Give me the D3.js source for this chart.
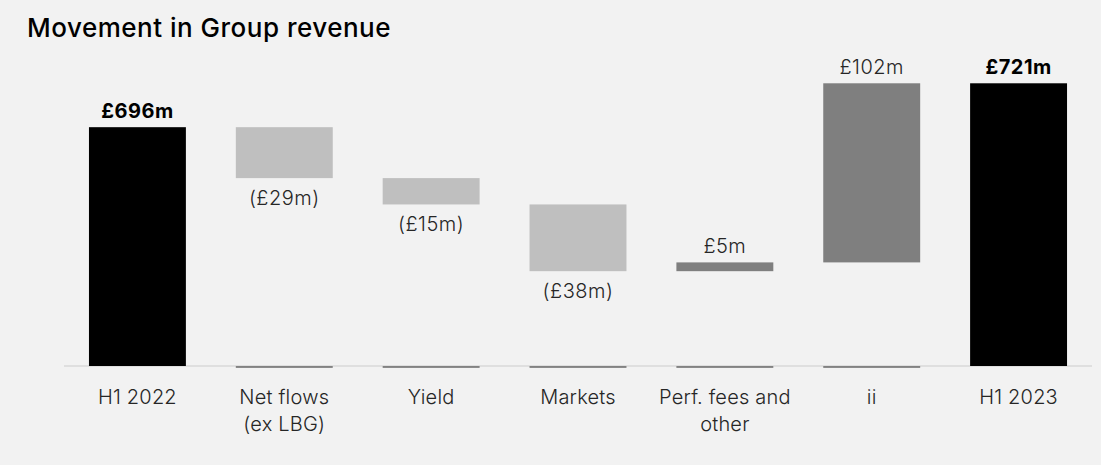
<!DOCTYPE html>
<html>
<head>
<meta charset="utf-8">
<script src="https://cdn.jsdelivr.net/npm/d3@7"></script>
<style>
  html, body { margin: 0; padding: 0; background: #f2f2f2; }
  svg { display: block; font-family: "Inter", "Lato", sans-serif; }
</style>
</head>
<body>
<svg id="chart" width="1101" height="465"></svg>
<script>
// Waterfall: Group revenue bridge H1 2022 -> H1 2023 (£m)
const categories = [
  ["H1 2022"],
  ["Net flows", "(ex LBG)"],
  ["Yield"],
  ["Markets"],
  ["Perf. fees and", "other"],
  ["ii"],
  ["H1 2023"]
];
const values = [696, -29, -15, -38, 5, 102, 721];
const kinds = ["total", "delta", "delta", "delta", "delta", "delta", "total"];
const valueLabels = ["£696m", "(£29m)", "(£15m)", "(£38m)", "£5m", "£102m", "£721m"];
const axisMin = 560;
const axisMax = 760;

const width = 1101, height = 465;
const svg = d3.select("#chart");

svg.append("rect").attr("width", width).attr("height", height).attr("fill", "#f2f2f2");

svg.append("text")
  .attr("x", 27).attr("y", 37)
  .attr("font-size", 26).attr("font-weight", 500).attr("fill", "#000")
  .attr("letter-spacing", 0.5)
  .text("Movement in Group revenue");

// Build running start/end for each step
let running = 0;
const steps = values.map((v, i) => {
  let lo, hi;
  if (kinds[i] === "total") {
    lo = axisMin; hi = v; running = v;
  } else {
    const start = running;
    running = start + v;
    lo = Math.min(start, running); hi = Math.max(start, running);
  }
  return { i, v, kind: kinds[i], lo, hi, label: valueLabels[i], cat: categories[i] };
});

const x = d3.scaleBand()
  .domain(d3.range(categories.length))
  .range([64, 1092])
  .paddingInner(0.34)
  .paddingOuter(0.17);

const y = d3.scaleLinear().domain([axisMin, axisMax]).range([366, 14.8]);

const color = d => d.kind === "total" ? "#000000" : (d.v < 0 ? "#bfbfbf" : "#7f7f7f");

// Baseline
svg.append("line")
  .attr("x1", 64).attr("x2", 1092)
  .attr("y1", y(axisMin)).attr("y2", y(axisMin))
  .attr("stroke", "#d9d9d9").attr("stroke-width", 1.5);

// Floor edges under the floating steps
svg.append("g").selectAll("line")
  .data(steps.filter(d => d.kind === "delta"))
  .join("line")
  .attr("x1", d => x(d.i)).attr("x2", d => x(d.i) + x.bandwidth())
  .attr("y1", y(axisMin) + 1).attr("y2", y(axisMin) + 1)
  .attr("stroke", "#262626").attr("stroke-width", 1.2);

// Bars
svg.append("g").selectAll("rect")
  .data(steps)
  .join("rect")
  .attr("x", d => x(d.i))
  .attr("width", x.bandwidth())
  .attr("y", d => y(d.hi))
  .attr("height", d => y(d.lo) - y(d.hi))
  .attr("fill", color);

// Value labels: above for totals/increases, below for decreases
svg.append("g").selectAll("text")
  .data(steps)
  .join("text")
  .attr("x", d => x(d.i) + x.bandwidth() / 2)
  .attr("y", d => d.v < 0 ? y(d.lo) + 27 : y(d.hi) - 9)
  .attr("text-anchor", "middle")
  .attr("font-size", 20)
  .attr("letter-spacing", 0.5)
  .attr("font-weight", d => d.kind === "total" ? 700 : 300)
  .attr("fill", d => d.kind === "total" ? "#000" : "#262626")
  .text(d => d.label);

// Category labels
const catG = svg.append("g").selectAll("text")
  .data(steps)
  .join("text")
  .attr("x", d => x(d.i) + x.bandwidth() / 2)
  .attr("y", 404)
  .attr("text-anchor", "middle")
  .attr("font-size", 20)
  .attr("letter-spacing", 0.2)
  .attr("font-weight", 300)
  .attr("fill", "#262626");
catG.selectAll("tspan")
  .data(d => d.cat.map((t, k) => ({ t, k, cx: x(d.i) + x.bandwidth() / 2 })))
  .join("tspan")
  .attr("x", d => d.cx)
  .attr("dy", d => d.k === 0 ? 0 : 27)
  .text(d => d.t);
</script>
</body>
</html>
